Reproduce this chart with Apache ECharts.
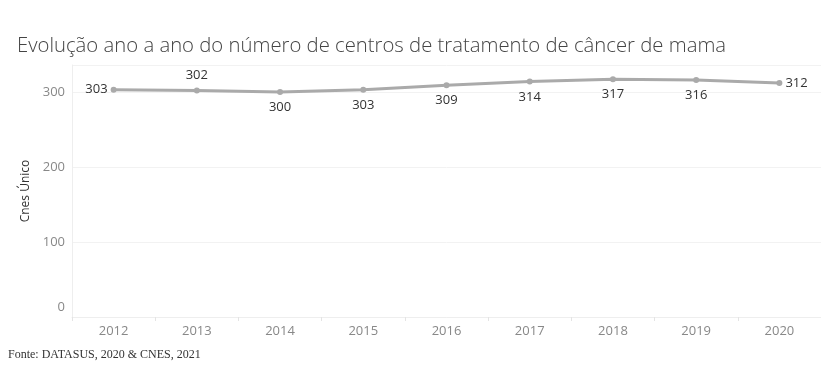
<!DOCTYPE html>
<html><head><meta charset="utf-8">
<script src="https://cdn.jsdelivr.net/npm/echarts@6/dist/echarts.min.js"></script>
<style>html,body{margin:0;padding:0;background:#fff}#c{width:821px;height:379px}</style>
</head><body><div id="c"></div>
<script>
const years = ['2012','2013','2014','2015','2016','2017','2018','2019','2020'];
const values = [303, 302, 300, 303, 309, 314, 317, 316, 312];
const labelPos = ['left','top','bottom','bottom','bottom','bottom','bottom','bottom','right'];
const yTicks = [0, 100, 200, 300];

const chart = echarts.init(document.getElementById('c'));
chart.setOption({
  animation: false,
  backgroundColor: '#fff',
  title: {
    text: 'Evolução ano a ano do número de centros de tratamento de câncer de mama',
    left: 12, top: 31,
    textStyle: {fontFamily: 'Open Sans', fontWeight: 300, fontSize: 20.3, color: '#444'}
  },
  graphic: [{
    type: 'text', left: 8, top: 349,
    style: {text: 'Fonte: DATASUS, 2020 & CNES, 2021', font: '12px "Liberation Serif"', fill: '#333'}
  }],
  grid: {left: 72, right: -4, top: 65, bottom: 62},
  xAxis: {
    type: 'category', data: years, boundaryGap: true,
    axisLine: {show: true, lineStyle: {color: '#eee'}},
    axisTick: {show: true, length: 4, lineStyle: {color: '#e4e4e4'}},
    axisLabel: {color: '#888', fontSize: 13, fontFamily: 'Open Sans', margin: 8}
  },
  yAxis: {
    type: 'value', min: 0, max: 336, interval: 100,
    name: 'Cnes Único', nameLocation: 'middle', nameGap: 27, nameRotate: 90,
    nameTextStyle: {color: '#333', fontSize: 12, fontFamily: 'Open Sans'},
    axisLine: {show: true, lineStyle: {color: '#eee'}},
    axisTick: {show: false},
    splitLine: {show: true, lineStyle: {color: '#f2f2f2'}},
    axisLabel: {
      color: '#888', fontSize: 13, fontFamily: 'Open Sans', margin: 7,
      showMaxLabel: false,
      formatter: v => yTicks.includes(v) ? (v === 0 ? '{z|0}' : String(v)) : '',
      rich: {z: {color: '#888', fontSize: 13, fontFamily: 'Open Sans', padding: [0, 0, 20, 0]}}
    }
  },
  series: [{
    type: 'line',
    data: values.map((v, i) => ({value: v, label: {position: labelPos[i], distance: (i === 0 || i === 8) ? 3 : 6}})),
    symbol: 'circle', symbolSize: 6,
    lineStyle: {color: '#aaaaaa', width: 3},
    itemStyle: {color: '#aaaaaa'},
    label: {show: true, color: '#333', fontSize: 13, fontFamily: 'Open Sans'}
  }]
});
</script></body></html>
